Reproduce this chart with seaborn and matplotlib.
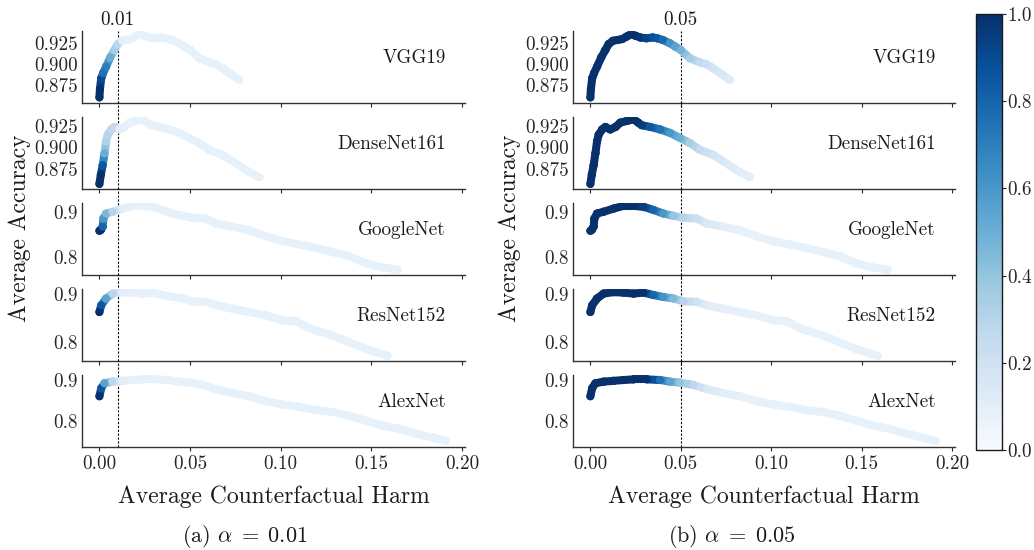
import numpy as np
import pandas as pd
import seaborn as sns
import matplotlib
matplotlib.use("Agg")
import matplotlib.pyplot as plt
from matplotlib.collections import LineCollection
from matplotlib.ticker import FormatStrFormatter
from matplotlib.transforms import blended_transform_factory

# ---------------- data ----------------
models = ["VGG19", "DenseNet161", "GoogleNet", "ResNet152", "AlexNet"]
alphas = [0.01, 0.05]

harm_vgg = [0.0, 0.0003, 0.001, 0.002, 0.0037, 0.0060, 0.0083, 0.0101, 0.0125, 0.0150, 0.0175, 0.0200, 0.0225, 0.0250,
            0.0275, 0.0310, 0.0345, 0.0370, 0.0400, 0.0440, 0.0470, 0.0500, 0.0550, 0.0606, 0.0640, 0.0680, 0.0725, 0.0771]
acc_vgg = [0.860, 0.870, 0.883, 0.889, 0.897, 0.908, 0.917, 0.924, 0.928, 0.929, 0.930, 0.933, 0.936, 0.934,
           0.932, 0.931, 0.932, 0.931, 0.929, 0.925, 0.921, 0.917, 0.907, 0.902, 0.900, 0.895, 0.888, 0.881]
c01_vgg = [1.0, 1.0, 0.9, 0.75, 0.7, 0.5, 0.35, 0.28, 0.1, 0.08, 0.08, 0.08, 0.08, 0.08,
           0.08, 0.08, 0.08, 0.08, 0.08, 0.08, 0.08, 0.08, 0.08, 0.08, 0.08, 0.08, 0.08, 0.08]
c05_vgg = [1, 1, 1, 1, 1, 1, 1, 1, 1, 1, 1, 1, 1, 1,
           0.98, 0.93, 0.88, 0.85, 0.78, 0.62, 0.55, 0.48, 0.35, 0.25, 0.22, 0.18, 0.15, 0.13]

harm_dense = [0.0, 0.0008, 0.0018, 0.0028, 0.0037, 0.0046, 0.0065, 0.0083, 0.0110, 0.0140, 0.0165, 0.0202, 0.0239,
              0.0265, 0.0284, 0.0330, 0.0386, 0.0440, 0.0496, 0.0550, 0.0606, 0.0680, 0.0753, 0.0826, 0.0882]
acc_dense = [0.857, 0.868, 0.879, 0.893, 0.907, 0.915, 0.921, 0.924, 0.921, 0.924, 0.929, 0.931, 0.933,
             0.929, 0.926, 0.924, 0.921, 0.917, 0.911, 0.905, 0.897, 0.891, 0.881, 0.871, 0.865]
c01_dense = [1.0, 1.0, 0.85, 0.5, 0.32, 0.3, 0.28, 0.25, 0.1, 0.08, 0.08, 0.08, 0.08,
             0.08, 0.08, 0.08, 0.08, 0.08, 0.08, 0.08, 0.08, 0.08, 0.08, 0.08, 0.08]
c05_dense = [1, 1, 1, 1, 1, 1, 1, 1, 1, 1, 1, 1, 1,
             1, 0.95, 0.85, 0.75, 0.6, 0.5, 0.35, 0.25, 0.18, 0.14, 0.11, 0.09]

harm_google = [0.0, 0.0008, 0.0018, 0.0022, 0.0037, 0.0073, 0.0128, 0.0183, 0.0239, 0.0294, 0.0349, 0.0404, 0.0459,
               0.0514, 0.0588, 0.0643, 0.0734, 0.0826, 0.0918, 0.1010, 0.1100, 0.1194, 0.1286, 0.1377, 0.1470,
               0.1560, 0.1644]
acc_google = [0.858, 0.860, 0.867, 0.885, 0.896, 0.900, 0.907, 0.913, 0.913, 0.911, 0.904, 0.896, 0.891,
              0.887, 0.885, 0.874, 0.867, 0.859, 0.846, 0.835, 0.828, 0.820, 0.811, 0.802, 0.786,
              0.777, 0.772]
c01_google = [1.0, 1.0, 0.8, 0.6, 0.45, 0.3, 0.1, 0.08, 0.08, 0.08, 0.08, 0.08, 0.08,
              0.08, 0.08, 0.08, 0.08, 0.08, 0.08, 0.08, 0.08, 0.08, 0.08, 0.08, 0.08, 0.08, 0.08]
c05_google = [1, 1, 1, 1, 1, 1, 1, 1, 1, 0.95, 0.8, 0.6, 0.4,
              0.3, 0.22, 0.15, 0.1, 0.08, 0.08, 0.08, 0.08, 0.08, 0.08, 0.08, 0.08, 0.08, 0.08]

harm_resnet = [0.0, 0.001, 0.0037, 0.0073, 0.0128, 0.0183, 0.0239, 0.0294, 0.0349, 0.0404, 0.0459, 0.0514, 0.0588,
               0.0643, 0.0734, 0.0826, 0.0918, 0.1010, 0.1084, 0.1148, 0.1194, 0.1286, 0.1377, 0.1470, 0.1589]
acc_resnet = [0.862, 0.876, 0.890, 0.900, 0.903, 0.902, 0.900, 0.902, 0.897, 0.893, 0.890, 0.884, 0.883,
              0.876, 0.869, 0.862, 0.855, 0.845, 0.843, 0.831, 0.824, 0.814, 0.800, 0.786, 0.772]
c01_resnet = [1.0, 0.85, 0.55, 0.3, 0.1, 0.08, 0.08, 0.08, 0.08, 0.08, 0.08, 0.08, 0.08,
              0.08, 0.08, 0.08, 0.08, 0.08, 0.08, 0.08, 0.08, 0.08, 0.08, 0.08, 0.08]
c05_resnet = [1, 1, 1, 1, 1, 1, 1, 1, 0.8, 0.62, 0.45, 0.3, 0.2,
              0.12, 0.09, 0.08, 0.08, 0.08, 0.08, 0.08, 0.08, 0.08, 0.08, 0.08, 0.08]

harm_alex = [0.0, 0.001, 0.0028, 0.0073, 0.0128, 0.0183, 0.0239, 0.0312, 0.0386, 0.0440, 0.0496, 0.0570, 0.0643,
             0.0734, 0.0826, 0.0918, 0.1010, 0.1100, 0.1194, 0.1286, 0.1377, 0.1470, 0.1560, 0.1653, 0.1745,
             0.1837, 0.1910]
acc_alex = [0.860, 0.880, 0.892, 0.896, 0.898, 0.900, 0.9015, 0.9015, 0.900, 0.896, 0.8935, 0.888, 0.8775,
            0.868, 0.860, 0.848, 0.840, 0.834, 0.826, 0.8215, 0.812, 0.800, 0.788, 0.780, 0.768,
            0.7585, 0.750]
c01_alex = [1.0, 0.85, 0.55, 0.28, 0.1, 0.08, 0.08, 0.08, 0.08, 0.08, 0.08, 0.08, 0.08,
            0.08, 0.08, 0.08, 0.08, 0.08, 0.08, 0.08, 0.08, 0.08, 0.08, 0.08, 0.08, 0.08, 0.08]
c05_alex = [1, 1, 1, 1, 1, 1, 1, 1, 0.75, 0.55, 0.4, 0.28, 0.15,
            0.1, 0.08, 0.08, 0.08, 0.08, 0.08, 0.08, 0.08, 0.08, 0.08, 0.08, 0.08, 0.08, 0.08]

y_ticks_top = [0.875, 0.900, 0.925]
y_ticks_low = [0.8, 0.9]
x_ticks = [0.00, 0.05, 0.10, 0.15, 0.20]
cbar_ticks = [0.0, 0.2, 0.4, 0.6, 0.8, 1.0]

series = {
    "VGG19": (harm_vgg, acc_vgg, c01_vgg, c05_vgg),
    "DenseNet161": (harm_dense, acc_dense, c01_dense, c05_dense),
    "GoogleNet": (harm_google, acc_google, c01_google, c05_google),
    "ResNet152": (harm_resnet, acc_resnet, c01_resnet, c05_resnet),
    "AlexNet": (harm_alex, acc_alex, c01_alex, c05_alex),
}
ylims = {
    "VGG19": (0.8537, 0.9401),
    "DenseNet161": (0.8514, 0.9360),
    "GoogleNet": (0.761, 0.920),
    "ResNet152": (0.762, 0.910),
    "AlexNet": (0.736, 0.913),
}

# ---------------- style ----------------
sns.set_theme(style="ticks")
plt.rcParams["font.family"] = ["cmr10", "DejaVu Serif"]
plt.rcParams["mathtext.fontset"] = "cm"
plt.rcParams["axes.unicode_minus"] = False
plt.rcParams["axes.formatter.use_mathtext"] = True

cmap = plt.get_cmap("Blues")
norm = matplotlib.colors.Normalize(0, 1)
FS = 13.8
LFS = 17
LW = 5.8

fig = plt.figure(figsize=(10.34, 5.5), dpi=100)
W, H = 1034, 550
col_lr = [(82, 465), (573, 955)]
top_px, bot_px = 30.7, 446.7
gs_kw = dict(top=1 - top_px / H, bottom=1 - bot_px / H, hspace=0.195)

for ci, (alpha, (lpx, rpx)) in enumerate(zip(alphas, col_lr)):
    gs = fig.add_gridspec(5, 1, left=lpx / W, right=rpx / W, **gs_kw)
    axes = [fig.add_subplot(gs[i, 0]) for i in range(5)]
    for ri, (ax, name) in enumerate(zip(axes, models)):
        hx, ay, c01, c05 = series[name]
        cv = c01 if ci == 0 else c05
        df = pd.DataFrame({"harm": hx, "acc": ay, "conf": cv})
        # connecting segments coloured by the point values
        pts = np.column_stack([df["harm"].values, df["acc"].values])
        segs = np.stack([pts[:-1], pts[1:]], axis=1)
        segc = (df["conf"].values[:-1] + df["conf"].values[1:]) / 2
        lc = LineCollection(segs, colors=cmap(norm(segc)), linewidths=LW, capstyle="round",
                            joinstyle="round", zorder=2)
        ax.add_collection(lc)
        sns.scatterplot(data=df, x="harm", y="acc", hue="conf", palette="Blues", hue_norm=(0, 1),
                        s=LW ** 2, linewidth=0, legend=False, ax=ax, zorder=3)
        ax.set_xlim(-0.0096, 0.2016)
        ax.set_ylim(*ylims[name])
        ax.set_xlabel("")
        ax.set_ylabel("")
        sns.despine(ax=ax)
        for sp in ("left", "bottom"):
            ax.spines[sp].set_color("0.2")
            ax.spines[sp].set_linewidth(1.0)
        ax.set_yticks(y_ticks_top if ri < 2 else y_ticks_low)
        ax.yaxis.set_major_formatter(FormatStrFormatter("%.3f" if ri < 2 else "%.1f"))
        ax.tick_params(axis="y", length=0, pad=3, labelsize=FS, colors="0.15")
        ax.set_xticks(x_ticks)
        ax.xaxis.set_major_formatter(FormatStrFormatter("%.2f"))
        ax.tick_params(axis="x", length=3, width=0.8, pad=3, labelsize=FS, colors="0.15",
                       labelbottom=(ri == 4))
        ax.text(0.95, 0.62, name, transform=ax.transAxes, ha="right", va="center",
                fontsize=FS, color="0.1")
        ax.axvline(alpha, ymin=0, ymax=1.0 if ri == 0 else 1.2, color="black", linestyle=(0, (2, 1.5)),
                   linewidth=0.8, clip_on=False, zorder=1)
        if ri == 0:
            tr = blended_transform_factory(ax.transData, ax.transAxes)
            ax.text(alpha, 1.08, f"{alpha:.2f}", transform=tr, ha="center", va="baseline",
                    fontsize=FS, color="0.1")
    cx = (lpx + rpx) / 2 / W
    fig.text(cx, 1 - 497 / H, "Average Counterfactual Harm", ha="center", va="center", fontsize=LFS, color="0.1")
    fig.text([20, 510][ci] / W, 1 - 228 / H, "Average Accuracy", rotation=90, ha="center", va="center",
             fontsize=LFS, color="0.1")
    cap = ["(a) ", "(b) "][ci] + r"$\alpha\;=\;%.2f$" % alpha
    fig.text([245, 732][ci] / W, 1 - 536 / H, cap, ha="center", va="center", fontsize=16, color="0.1")

# colourbar
cax = fig.add_axes([976 / W, 1 - 450 / H, 25.7 / W, (450 - 14) / H])
sm = matplotlib.cm.ScalarMappable(norm=norm, cmap=cmap)
cb = fig.colorbar(sm, cax=cax)
cb.set_ticks(cbar_ticks)
cb.ax.yaxis.set_major_formatter(FormatStrFormatter("%.1f"))
cb.ax.tick_params(labelsize=FS, length=3, width=0.8, pad=1, colors="0.15")
cb.outline.set_linewidth(1.0)
cb.outline.set_edgecolor("0.1")

fig.savefig("out.png", dpi=100)
